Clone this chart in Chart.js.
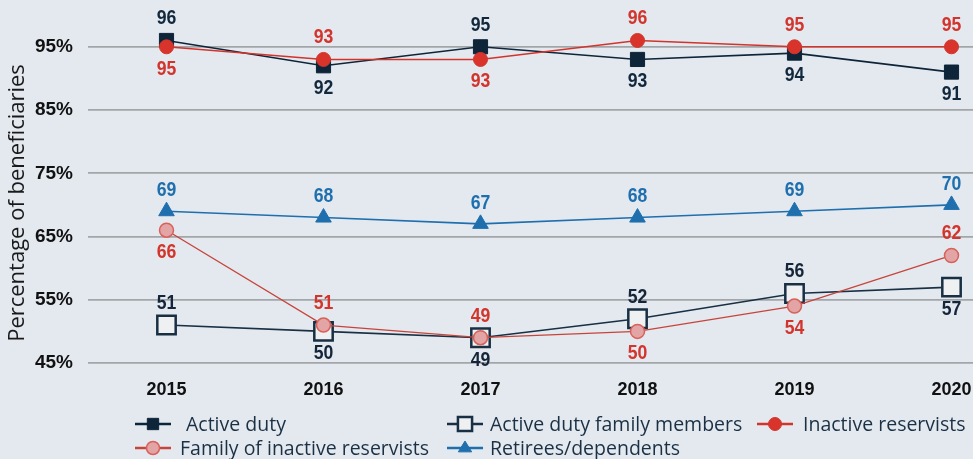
<!DOCTYPE html>
<html><head><meta charset="utf-8">
<script src="https://cdn.jsdelivr.net/npm/chart.js@4/dist/chart.umd.min.js"></script>
<style>html,body{margin:0;padding:0;overflow:hidden;background:#e3e9ef;width:973px;height:459px}canvas{display:block}</style>
</head><body><canvas id="c" width="1030" height="459"></canvas>
<script>
const categories = ['2015', '2016', '2017', '2018', '2019', '2020'];
const activeDuty = [96, 92, 95, 93, 94, 91];
const activeDutyFamily = [51, 50, 49, 52, 56, 57];
const inactiveReservists = [95, 93, 93, 96, 95, 95];
const familyInactive = [66, 51, 49, 50, 54, 62];
const retirees = [69, 68, 67, 68, 69, 70];
const yTicks = [45, 55, 65, 75, 85, 95];
const seriesNames = ['Active duty', 'Active duty family members', 'Inactive reservists', 'Family of inactive reservists', 'Retirees/dependents'];
const yTitle = 'Percentage of beneficiaries';

const BOLDF = '"Liberation Sans", Arial, sans-serif';
const SANS = '"Open Sans", "Noto Sans", sans-serif';

const datasets = [
  { label: seriesNames[0], data: activeDuty, borderColor: '#0e2439', backgroundColor: '#0e2439',
    pointStyle: 'rect', pointRadius: 10, pointBorderWidth: 1, borderWidth: 1.6, order: 5,
    labelPos: ['a','b','a','b','b','b'], labelColor: '#12283c', labelOff: 22, legendR: 8 },
  { label: seriesNames[1], data: activeDutyFamily, borderColor: '#182f44', backgroundColor: '#eef0f2',
    pointStyle: 'rect', pointRadius: 13, pointBorderWidth: 2.5, borderWidth: 1.6, order: 4,
    labelPos: ['a','b','b','a','a','b'], labelColor: '#15253a', labelOff: 22, legendR: 10 },
  { label: seriesNames[2], data: inactiveReservists, borderColor: '#d2342b', backgroundColor: '#d9342b',
    pointStyle: 'circle', pointRadius: 7, pointBorderWidth: 1, borderWidth: 1.6, order: 2,
    labelPos: ['b','a','b','a','a','a'], labelColor: '#d3342c', labelOff: 22, legendR: 6.5 },
  { label: seriesNames[3], data: familyInactive, borderColor: '#c8443b', backgroundColor: '#e2a4a4',
    pointStyle: 'circle', pointRadius: 7, pointBorderWidth: 1.5, pointBorderColor: '#d8615a', borderWidth: 1.3, order: 1,
    labelPos: ['b','a','a','b','b','a'], labelColor: '#d3342c', labelOff: 22, legendR: 6.5 },
  { label: seriesNames[4], data: retirees, borderColor: '#1f6fae', backgroundColor: '#1f6fae',
    pointStyle: 'triangle', pointRadius: 9, pointBorderWidth: 1, borderWidth: 1.6, order: 3,
    labelPos: ['a','a','a','a','a','a'], labelColor: '#1f6fae', labelOff: 21, legendR: 7 }
];

function drawMarker(ctx, ds, x, y, r) {
  ctx.save();
  ctx.fillStyle = ds.backgroundColor;
  ctx.strokeStyle = ds.pointBorderColor || ds.borderColor;
  ctx.lineWidth = ds.pointBorderWidth;
  ctx.beginPath();
  if (ds.pointStyle === 'rect') {
    const s = r * Math.SQRT1_2;
    ctx.rect(x - s, y - s, 2 * s, 2 * s);
  } else if (ds.pointStyle === 'circle') {
    ctx.arc(x, y, r, 0, Math.PI * 2);
  } else {
    ctx.moveTo(x, y - r);
    ctx.lineTo(x + r * 0.95, y + r * 0.55);
    ctx.lineTo(x - r * 0.95, y + r * 0.55);
    ctx.closePath();
  }
  ctx.fill();
  ctx.stroke();
  ctx.restore();
}

const valueLabels = {
  id: 'valueLabels',
  afterDatasetsDraw(chart) {
    const ctx = chart.ctx;
    chart.data.datasets.forEach((ds, i) => {
      const meta = chart.getDatasetMeta(i);
      meta.data.forEach((pt, j) => {
        const above = ds.labelPos[j] === 'a';
        ctx.save();
        ctx.translate(pt.x, pt.y + (above ? -ds.labelOff : ds.labelOff));
        ctx.scale(0.84, 1);
        ctx.font = 'bold 21px ' + BOLDF;
        ctx.fillStyle = ds.labelColor;
        ctx.textAlign = 'center';
        ctx.textBaseline = 'middle';
        ctx.fillText(String(ds.data[j]), 0, 0);
        ctx.restore();
      });
    });
  }
};

const customLegend = {
  id: 'customLegend',
  afterDraw(chart) {
    const ctx = chart.ctx;
    const items = [
      { i: 0, x: 135, y: 424, tx: 186 },
      { i: 1, x: 447, y: 424, tx: 490 },
      { i: 2, x: 757, y: 424, tx: 803 },
      { i: 3, x: 135, y: 448, tx: 180 },
      { i: 4, x: 447, y: 448, tx: 490 }
    ];
    items.forEach(it => {
      const ds = chart.data.datasets[it.i];
      ctx.save();
      ctx.strokeStyle = ds.borderColor;
      ctx.lineWidth = 2.5;
      ctx.beginPath();
      ctx.moveTo(it.x, it.y);
      ctx.lineTo(it.x + 36, it.y);
      ctx.stroke();
      ctx.restore();
      drawMarker(ctx, ds, it.x + 18, it.y, ds.legendR);
      ctx.save();
      ctx.font = '19.5px ' + SANS;
      ctx.fillStyle = '#1b3044';
      ctx.textAlign = 'left';
      ctx.textBaseline = 'middle';
      ctx.fillText(ds.label, it.tx, it.y + 1);
      ctx.restore();
    });
    ctx.save();
    ctx.translate(18, 203);
    ctx.rotate(-Math.PI / 2);
    ctx.font = '22px ' + SANS;
    ctx.fillStyle = '#1a1a1a';
    ctx.textAlign = 'center';
    ctx.textBaseline = 'middle';
    ctx.fillText(yTitle, 0, 0);
    ctx.restore();
  }
};

new Chart(document.getElementById('c'), {
  type: 'line',
  data: { labels: categories, datasets: datasets },
  options: {
    responsive: false,
    animation: false,
    devicePixelRatio: 1,
    layout: { padding: 0, autoPadding: false },
    plugins: { legend: { display: false }, tooltip: { enabled: false } },
    elements: { line: { tension: 0 } },
    datasets: { line: { clip: false } },
    scales: {
      x: {
        offset: true,
        grid: { display: false, drawTicks: false },
        border: { display: false },
        ticks: { color: '#111', font: { family: BOLDF, size: 18, weight: 'bold' }, padding: 16 },
        afterFit(s) { s.height = 96; s.paddingLeft = 0; s.paddingRight = 0; }
      },
      y: {
        min: 45, max: 102.4,
        afterBuildTicks(s) { s.ticks = yTicks.map(v => ({ value: v })); },
        grid: { color: '#a3a6a9', lineWidth: 1.8, drawTicks: false },
        border: { display: false },
        ticks: { color: '#111', font: { family: BOLDF, size: 19, weight: 'bold' }, padding: 15,
          callback: v => v + '%' },
        afterFit(s) { s.width = 88; s.paddingTop = 0; s.paddingBottom = 0; }
      }
    }
  },
  plugins: [valueLabels, customLegend]
});
</script>
</body></html>
